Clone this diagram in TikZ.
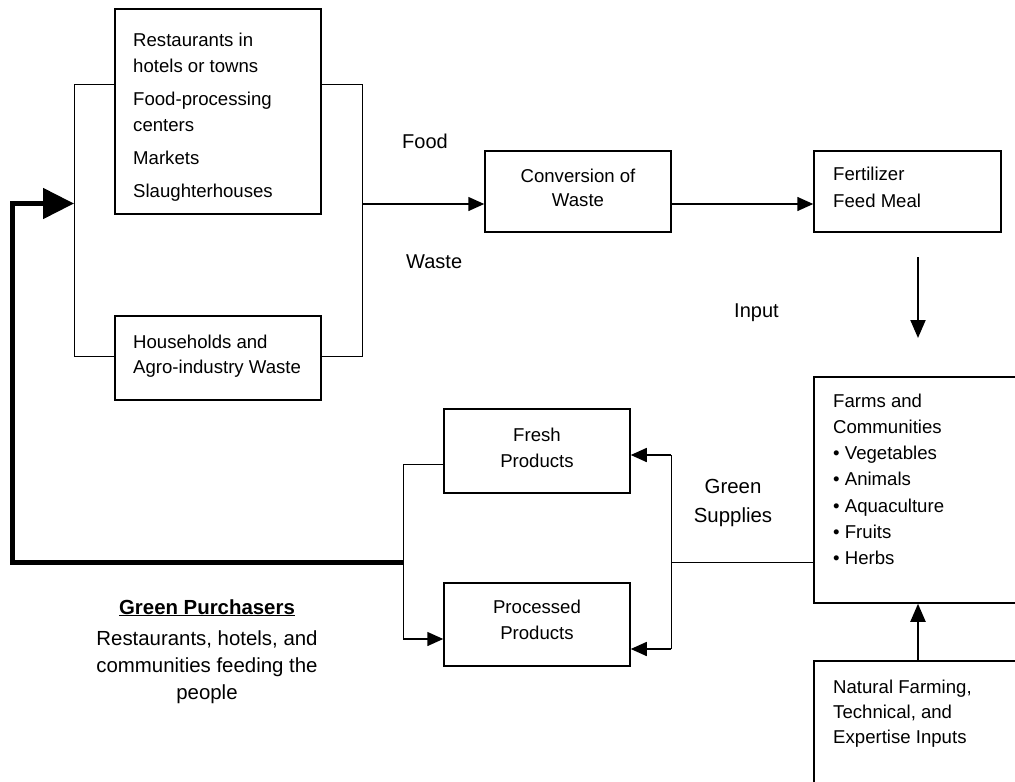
\documentclass[tikz,border=0pt]{standalone}
\usepackage{fontspec}
\setmainfont{Liberation Sans}
\usetikzlibrary{arrows.meta}

\begin{document}
\begin{tikzpicture}[x=1pt,y=-1pt,
  box/.style={draw, line width=1.5pt, inner sep=0pt},
  boxtext/.style={font=\fontsize{18.6}{26}\selectfont, align=left, anchor=base west, inner sep=0pt},
  boxtextc/.style={font=\fontsize{18.6}{26}\selectfont, align=center, anchor=base, inner sep=0pt},
  lbl/.style={font=\fontsize{20}{28}\selectfont, inner sep=0pt},
  bus/.style={line width=1pt},
  arr/.style={line width=1.5pt, -{Triangle[length=16pt,width=14pt]}},
  bigarr/.style={line width=2pt, -{Triangle[length=18pt,width=15pt]}},
  feedback/.style={line width=5pt, line join=miter, -{Triangle[length=31pt,width=30pt]}}]

\useasboundingbox (0,0) rectangle (1015,782);
\clip (0,0) rectangle (1015,782);

% boxes
\node[box, minimum width=206pt, minimum height=205pt] (src1) at (218,111.5) {};
\node[box, minimum width=206pt, minimum height=84pt]  (src2) at (218,358) {};
\node[box, minimum width=186pt, minimum height=81pt]  (conv) at (578,191.5) {};
\node[box, minimum width=187pt, minimum height=81pt]  (fert) at (907.5,191.5) {};
\node[box, minimum width=216pt, minimum height=226pt] (farms) at (922,490) {};
\node[box, minimum width=216pt, minimum height=139pt] (nat) at (922,730.5) {};
\node[box, minimum width=186pt, minimum height=84pt]  (fresh) at (537,451) {};
\node[box, minimum width=186pt, minimum height=83pt]  (proc) at (537,624.5) {};

% box texts (placed by the baseline of their last line)
\node[boxtext] (src1t) at (133,197) {Restaurants in\\hotels or towns\\[7pt]Food-processing\\centers\\[7pt]Markets\\[7pt]Slaughterhouses};
\node[boxtext, font=\fontsize{18.6}{25.5}\selectfont] (src2t) at (133,373.5) {Households and\\Agro-industry Waste};
\node[boxtextc, font=\fontsize{18.6}{24.5}\selectfont] (convt) at (578,206.5) {Conversion of\\Waste};
\node[boxtext, font=\fontsize{18.6}{27}\selectfont] (fertt) at (833,207) {Fertilizer\\Feed Meal};
\node[boxtext, font=\fontsize{18.6}{26.3}\selectfont] (farmst) at (833,564.8) {Farms and\\Communities\\\textbullet{} Vegetables\\\textbullet{} Animals\\\textbullet{} Aquaculture\\\textbullet{} Fruits\\\textbullet{} Herbs};
\node[boxtext, font=\fontsize{18.6}{25}\selectfont] (natt) at (833,743) {Natural Farming,\\Technical, and\\Expertise Inputs};
\node[boxtextc] (fresht) at (537,467) {Fresh\\Products};
\node[boxtextc] (proct) at (537,639) {Processed\\Products};

% free labels
\node[lbl, anchor=base west] (food) at (402,148) {Food};
\node[lbl, anchor=base west] (waste) at (406,268) {Waste};
\node[lbl, anchor=base west] (input) at (734,317) {Input};
\node[lbl, font=\fontsize{20.4}{29}\selectfont, align=center, anchor=base] (supplies) at (733,522) {Green\\Supplies};
\node[lbl, font=\fontsize{20.4}{27}\selectfont, align=center, anchor=base] (buyers) at (207,699)
  {\underline{\textbf{Green Purchasers}}\\[4pt]Restaurants, hotels, and\\communities feeding the\\people};

% junction points of the connectors
\coordinate (lbusT) at (74,84);
\coordinate (lbusB) at (74,356);
\coordinate (lbusIn) at (74,203.5);
\coordinate (rbusT) at (362,84);
\coordinate (rbusB) at (362,356);
\coordinate (rbusO) at (362,204);
\coordinate (inTop) at (918,257);
\coordinate (inBot) at (918,338);
\coordinate (gbusT) at (671,455);
\coordinate (gbusM) at (671,562);
\coordinate (gbusB) at (671,649);
\coordinate (pbusT) at (403,464);
\coordinate (pbusM) at (403,562);
\coordinate (pbusB) at (403,639);
\coordinate (fbLow) at (12.5,562);
\coordinate (fbHigh) at (12.5,203.5);

% sources gathered on both sides
\draw[bus] (src1.west |- lbusT) -- (lbusT) -- (lbusB) -- (src2.west |- lbusB);
\draw[bus] (src1.east |- rbusT) -- (rbusT) -- (rbusB) -- (src2.east |- rbusB);

% food waste to conversion to fertilizer
\draw[arr] (rbusO) -- (conv.west |- rbusO);
\draw[arr] (conv.east |- rbusO) -- (fert.west |- rbusO);

% inputs to the farms
\draw[bigarr] (inTop) -- (inBot);
\draw[bigarr] (nat.north -| inTop) -- (farms.south -| inTop);

% green supplies to the products
\draw[bus] (farms.west |- gbusM) -- (gbusM);
\draw[bus] (gbusT) -- (gbusB);
\draw[arr] (gbusT) -- (fresh.east |- gbusT);
\draw[arr] (gbusB) -- (proc.east |- gbusB);

% products to the purchasers
\draw[bus] (fresh.west |- pbusT) -- (pbusT) -- (pbusB);
\draw[arr] (pbusB) -- (proc.west |- pbusB);

% feedback loop back to the sources
\draw[feedback] (pbusM) -- (fbLow) -- (fbHigh) -- (lbusIn);
\end{tikzpicture}
\end{document}
